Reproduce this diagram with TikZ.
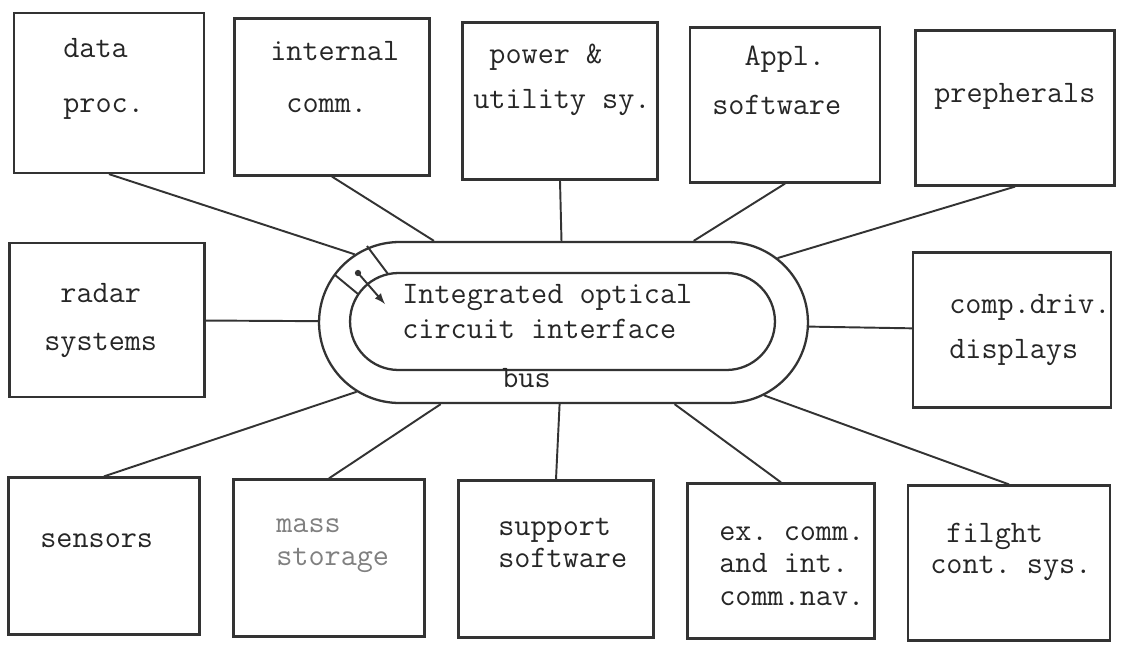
\documentclass[tikz,border=0pt]{standalone}
\usepackage{fontspec}
\usetikzlibrary{arrows,calc,positioning,shapes}

\tikzset{
  box/.style={draw=black!80, line width=1.3pt, minimum width=3.9cm, minimum height=3.14cm, inner sep=0pt},
  ring/.style={draw=black!80, line width=1.3pt, rounded rectangle, inner sep=0pt},
  txt/.style={font=\ttfamily\frenchspacing\fontsize{17.8}{#1}\selectfont, text=black!85, align=left, anchor=base west, inner sep=0pt},
  txt/.default=28,
  link/.style={draw=black!80, line width=1.1pt},
}

\begin{document}
\begin{tikzpicture}[x=0.02cm, y=-0.02cm]
	\useasboundingbox (0,0) rectangle (1127,653);

	% Place the bus
	\node [ring, minimum width=9.78cm, minimum height=3.22cm] (bus) at (563.5,322.5) {};
	\node [ring, minimum width=8.5cm, minimum height=1.94cm] (ioc) at (562.5,321.5) {};
	\node [txt=19.8] (ioctext) at (402,338) {Integrated optical\\circuit interface};
	\node [txt] (buslabel) at (502,387) {bus};

	% Coupler on the ring
	\draw [link] (367,246) -- (388,274);
	\draw [link] (335,275) -- (358,294);
	\coordinate (tap) at (358,273);
	\coordinate (tip) at (385,304);
	\fill [black!80] (tap) circle (1.8pt);
	\draw [link, -latex] (tap) -- (tip);

	% Place the units
	\node [box, minimum width=3.8cm, minimum height=3.2cm] (dataproc) at (109,93) {};
	\node [box] (intcomm) at (332,97) {};
	\node [box] (power) at (560,101) {};
	\node [box, minimum width=3.8cm, minimum height=3.1cm] (appl) at (785,105) {};
	\node [box, minimum width=3.98cm, minimum height=3.1cm] (preph) at (1015,108) {};
	\node [box, minimum height=3.08cm] (radar) at (107,320) {};
	\node [box, minimum width=3.96cm, minimum height=3.1cm] (compdriv) at (1012,330) {};
	\node [box, minimum width=3.82cm] (sensors) at (104,556) {};
	\node [box, minimum width=3.82cm] (mass) at (329,558) {};
	\node [box] (support) at (556,559) {};
	\node [box, minimum width=3.74cm, minimum height=3.1cm] (excomm) at (781,561) {};
	\node [box, minimum width=4.04cm, minimum height=3.1cm] (flight) at (1009,563) {};

	% Labels (anchored on the last line)
	\node [txt=31] (dataproctext) at (63,112) {data\\proc.};
	\node [txt=29.5] (intcommtext) at (270,112) {internal\\\phantom{x}comm.};
	\node [txt=25.5] (powertext) at (473,108) {\phantom{x}power \&\\utility sy.};
	\node [txt=27.8] (appltext) at (712,114) {\phantom{xx}Appl.\\software};
	\node [txt] (prephtext) at (934,102) {prepherals};
	\node [txt=27.2] (radartext) at (44,350) {\phantom{x}radar\\systems};
	\node [txt=25.5] (compdrivtext) at (949,358) {comp.driv.\\displays};
	\node [txt] (sensorstext) at (40,547) {sensors};
	\node [txt=18.7, text=black!50] (masstext) at (276,565) {mass\\storage};
	\node [txt=18.1] (supporttext) at (498,567) {support\\software};
	\node [txt=18.4] (excommtext) at (719,605) {ex. comm.\\and int.\\comm.nav.};
	\node [txt=17.6] (flighttext) at (930,573) {\phantom{x}filght\\cont. sys.};

	% Draw edges
	\draw [link] (dataproc.south) -- (bus);
	\draw [link] (intcomm.south) -- (bus);
	\draw [link] (power.south) -- (bus);
	\draw [link] (appl.south) -- (bus);
	\draw [link] (preph.south) -- (bus);
	\draw [link] (radar) -- (bus);
	\draw [link] (compdriv) -- (bus);
	\draw [link] (sensors.north) -- (bus);
	\draw [link] (mass.north) -- (bus);
	\draw [link] (support.north) -- (bus);
	\draw [link] (excomm.north) -- (bus);
	\draw [link] (flight.north) -- (bus);
\end{tikzpicture}
\end{document}
